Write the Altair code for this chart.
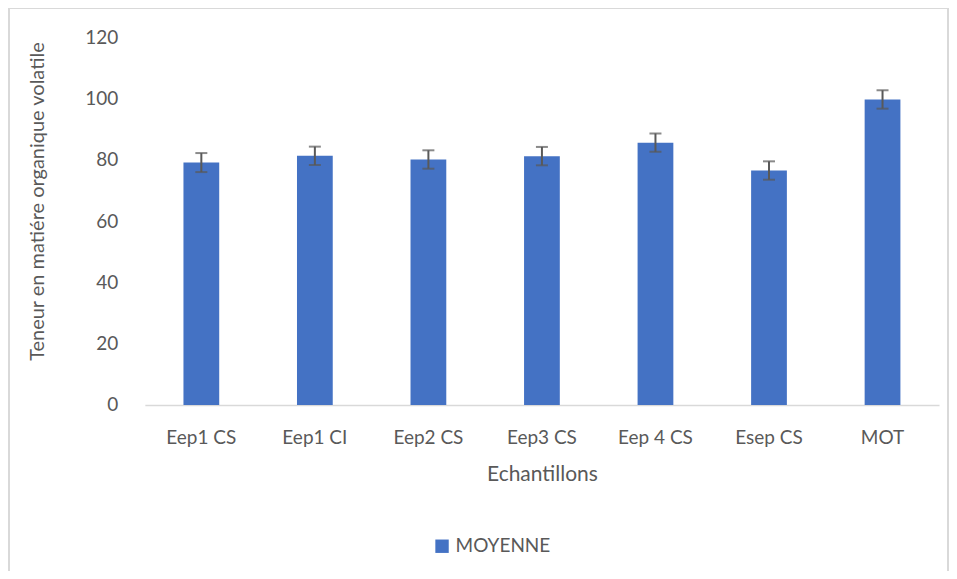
import altair as alt
import pandas as pd

categories = ["Eep1 CS", "Eep1 CI", "Eep2 CS", "Eep3 CS", "Eep 4 CS", "Esep CS", "MOT"]
means = [79.1, 81.3, 80.1, 81.2, 85.6, 76.5, 99.7]
errors = [3.1, 3.0, 3.0, 3.0, 3.0, 3.0, 3.0]
series = "MOYENNE"

df = pd.DataFrame({"cat": categories, "mean": means, "err": errors})
df["lo"] = df["mean"] - df["err"]
df["hi"] = df["mean"] + df["err"]
df["series"] = series

FONT = "Lato"
GREY = "#595959"
W, H = 795, 368

xenc = alt.X("cat:N", sort=categories, title="Echantillons",
             scale=alt.Scale(paddingInner=0.685, paddingOuter=0.34),
             axis=alt.Axis(labelAngle=0, tickSize=0, labelPadding=24, titlePadding=16,
                           domainColor="#D9D9D9", domainWidth=1.5,
                           labelFontSize=19, titleFontSize=21,
                           labelColor=GREY, titleColor=GREY,
                           labelFont=FONT, titleFont=FONT, titleFontWeight="normal"))

yscale = alt.Scale(domain=[0, 120])

frame = alt.Chart(df).mark_rect(fill="white", fillOpacity=0, stroke="#D9D9D9", strokeWidth=1.5).encode(
    x=alt.value(-136), x2=alt.value(804), y=alt.value(-29), y2=alt.value(539)
)

bars = alt.Chart(df).mark_bar(color="#4472C4").encode(
    x=xenc,
    y=alt.Y("mean:Q", scale=yscale, title="Teneur en matiére organique volatile",
            axis=alt.Axis(values=[0, 20, 40, 60, 80, 100, 120], grid=False, domain=False,
                          ticks=False, labelPadding=27, titlePadding=37, titleY=164,
                          labelFontSize=19, titleFontSize=20,
                          labelColor=GREY, titleColor=GREY,
                          labelFont=FONT, titleFont=FONT, titleFontWeight="normal")),
    color=alt.Color("series:N", scale=alt.Scale(range=["#4472C4"]), title=None,
                    legend=alt.Legend(orient="none", legendX=288, legendY=500,
                                      symbolType="square", symbolSize=180,
                                      symbolStrokeWidth=0,
                                      labelFontSize=19, labelFont=FONT, labelColor=GREY)),
)

rules = alt.Chart(df).mark_rule(color=GREY, strokeWidth=2).encode(
    x=alt.X("cat:N", sort=categories), y=alt.Y("lo:Q", scale=yscale), y2="hi:Q"
)
caps_hi = alt.Chart(df).mark_tick(color=GREY, thickness=2, size=12, orient="horizontal").encode(
    x=alt.X("cat:N", sort=categories), y=alt.Y("hi:Q", scale=yscale)
)
caps_lo = alt.Chart(df).mark_tick(color=GREY, thickness=2, size=12, orient="horizontal").encode(
    x=alt.X("cat:N", sort=categories), y=alt.Y("lo:Q", scale=yscale)
)

chart = alt.layer(frame, bars, rules, caps_hi, caps_lo).properties(
    width=W, height=H,
    autosize=alt.AutoSizeParams(type="none"),
    padding={"left": 137, "top": 29, "right": 10, "bottom": 166},
).configure_view(stroke=None)

chart.save("out.html", embed_options={"renderer": "svg", "actions": False})
